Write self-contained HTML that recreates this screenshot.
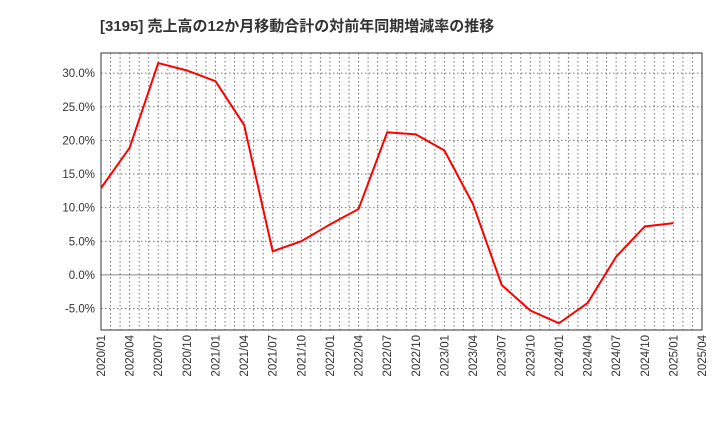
<!DOCTYPE html>
<html><head><meta charset="utf-8"><style>
body{margin:0;background:#fff;font-family:"Liberation Sans","Noto Sans CJK JP",sans-serif}
</style></head><body>
<svg width="720" height="440" xmlns="http://www.w3.org/2000/svg">
<text x="100" y="31" font-size="15" font-weight="bold" fill="#333" font-family="Liberation Sans, Noto Sans CJK JP, sans-serif">[3195]  売上高の12か月移動合計の対前年同期増減率の推移</text>
<g id="grid"></g><g id="axes"></g><g id="series"></g>
</svg>
<script>
const categories=["2020/01","2020/04","2020/07","2020/10","2021/01","2021/04","2021/07","2021/10","2022/01","2022/04","2022/07","2022/10","2023/01","2023/04","2023/07","2023/10","2024/01","2024/04","2024/07","2024/10","2025/01","2025/04"];
const values=[12.9,18.9,31.5,30.4,28.8,22.3,3.5,5.0,7.5,9.8,21.2,20.9,18.5,10.5,-1.5,-5.3,-7.2,-4.2,2.7,7.2,7.7];
const yTicks=[-5,0,5,10,15,20,25,30];
const L=101,R=702,T=53,B=330,yMin=-8.2,yMax=33.0;
const ns="http://www.w3.org/2000/svg";
const x=i=>L+(R-L)*i/(categories.length-1);
const y=v=>B-(v-yMin)/(yMax-yMin)*(B-T);
function mk(t,a,p){const e=document.createElementNS(ns,t);for(const k in a)e.setAttribute(k,a[k]);p.appendChild(e);return e;}
const g=document.getElementById('grid'),ax=document.getElementById('axes'),s=document.getElementById('series');
for(let m=1;m<(categories.length-1)*3;m++){const xx=L+(R-L)*m/((categories.length-1)*3);
const l=mk('line',{x1:xx,x2:xx,y1:T,y2:B,stroke:'#777','stroke-dasharray':'1.5,2.5','stroke-width':1},g);

}
yTicks.forEach(v=>{const yy=y(v);
const l=mk('line',{x1:L,x2:R,y1:yy,y2:yy,stroke:v===0?'#888':'#777','stroke-dasharray':v===0?'':'1.5,2.5','stroke-width':1},g);


const t=mk('text',{x:L-6,y:yy+4,'text-anchor':'end','font-size':11.5,fill:'#333'},ax);t.textContent=v.toFixed(1)+'%';

});
categories.forEach((c,i)=>{const xx=x(i);
const t=mk('text',{x:0,y:0,transform:`translate(${xx+4},${B+5}) rotate(-90)`,'text-anchor':'end','font-size':11.5,fill:'#333'},ax);t.textContent=c;

});
const fr=mk('rect',{x:L,y:T,width:R-L,height:B-T,fill:'none',stroke:'#333','stroke-width':1},ax);


const pl=mk('polyline',{points:values.map((v,i)=>x(i)+','+y(v)).join(' '),fill:'none',stroke:'#f00','stroke-width':2},s);


</script>
</body></html>
